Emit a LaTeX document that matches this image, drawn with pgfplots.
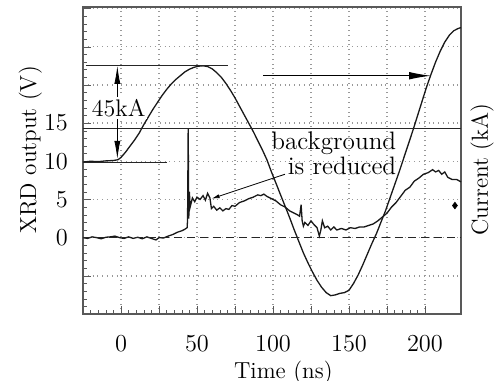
\documentclass[border=0pt]{standalone}
\usepackage{pgfplots}
\pgfplotsset{compat=1.18}
\usetikzlibrary{arrows.meta}
\begin{document}
\begin{tikzpicture}
\begin{axis}[
  name=ax,
  scale only axis, width=189pt, height=153.5pt,
  xmin=-25, xmax=223.7, ymin=-10, ymax=30.2,
  clip=false,
  xtick={-25,0,...,200}, xticklabels={,0,,50,,100,,150,,200},
  ytick={-10,-5,...,30}, yticklabels={,,0,5,10,15,,,},
  minor x tick num=4, minor y tick num=4,
  tick pos=left,
  major tick length=4pt, minor tick length=2pt,
  grid=major, major grid style={dotted, gray!80, line width=0.7pt},
  axis line style={gray!70!black, line width=0.6pt},
  tick style={gray!70!black},
  tick label style={font=\fontsize{12.2}{13}\selectfont},
  label style={font=\fontsize{11.6}{13}\selectfont},
  xticklabel style={yshift=-7pt},
  yticklabel style={xshift=-4pt},
  xlabel={Time (ns)},
  xlabel style={at={(ticklabel cs:0.53)}, yshift=2pt},
]
% current trace
\addplot[black!90, line width=0.65pt] coordinates {
(-25,9.9) (-20,10.0) (-15,9.95) (-10,10.05) (-5,10.1) (-2,10.2) (0,10.5) (3,11.2) (6,12.0) (9,12.8) (12,13.7) (15,14.8) (18,15.8) (21,16.8) (24,17.7) (27,18.6) (30,19.4) (33,20.1) (36,20.7) (39,21.2) (42,21.7) (45,22.05) (48,22.3) (51,22.45) (54,22.5) (57,22.4) (60,22.1) (63,21.6) (66,21.0) (69,20.2) (72,19.3) (75,18.3) (78,17.2) (81,16.1) (84,15.0) (87,13.9) (90,12.7) (93,11.5) (96,10.2) (99,8.6) (102,7.1) (105,5.6) (108,4.1) (111,2.6) (114,1.0) (117,-0.5) (120,-2.0) (123,-3.3) (126,-4.5) (129,-5.6) (132,-6.5) (135,-7.2) (138,-7.6) (141,-7.5) (144,-7.3) (147,-7.2) (150,-6.9) (153,-6.0) (156,-4.9) (159,-3.6) (162,-2.2) (165,-0.8) (168,0.5) (171,2.0) (174,3.5) (177,5.2) (180,6.9) (183,8.6) (186,10.4) (189,12.2) (192,14.0) (195,15.9) (198,17.8) (201,19.7) (204,21.4) (207,23.0) (210,24.4) (213,25.6) (216,26.5) (219,27.1) (222,27.4) (223.7,27.5)
};
% XRD trace
\addplot[black!90, line width=0.65pt] coordinates {
(-25,0) (-22,-0.1) (-19,0.1) (-16,0) (-13,-0.15) (-10,0.05) (-7,0.1) (-4,0.2) (-1,0) (2,-0.1) (5,0.1) (8,-0.1) (11,0.05) (14,-0.15) (17,0.1) (20,-0.1) (23,-0.3) (25,0) (28,-0.05) (31,0.2) (34,0.4) (37,0.7) (40,0.9) (42,1.1) (43.5,1.3) (43.8,2.3) (44.2,14.2) (44.6,2.5) (45.0,6.0) (45.5,4.0) (47,5.2) (48.5,4.7) (50,5.3) (52,5.0) (54,5.5) (55.5,4.9) (57,5.8) (58.5,5.2) (59.5,3.8) (61,4.1) (63,3.6) (65,3.9) (67,3.5) (69,3.8) (71,3.7) (73,4.2) (75,4.1) (78,4.6) (81,4.8) (84,5.1) (87,5.3) (90,5.6) (92,5.5) (94,5.7) (96,5.4) (99,5.1) (102,4.8) (105,4.3) (108,4.0) (111,3.5) (114,3.2) (116,3.0) (117.5,2.8) (118.5,4.3) (119.2,2.2) (120,1.5) (121,2.0) (123,1.6) (125,2.2) (127,1.7) (129,1.3) (130.5,0.2) (131.5,1.0) (132.5,2.2) (134,1.3) (136,1.5) (138,1.0) (140,1.4) (142,1.0) (145,1.2) (148,1.0) (151,1.3) (154,1.2) (157,1.4) (160,1.4) (163,1.6) (166,1.8) (169,2.2) (172,2.7) (175,3.2) (178,4.0) (181,4.6) (184,5.4) (187,6.2) (190,6.6) (193,7.4) (196,7.8) (199,8.3) (202,8.5) (205,8.9) (207,8.6) (209,8.8) (211,8.3) (213,8.6) (215,7.9) (218,7.6) (221,7.6) (223.7,7.3)
};
\addplot[only marks, mark=diamond*, mark size=1.6pt, black] coordinates {(219.7,4.2)};
% annotations
\draw[black!85, line width=0.5pt] (axis cs:-25,14.26) -- (axis cs:223.7,14.26);
\draw[black!85, line width=0.5pt] (axis cs:-23,22.57) -- (axis cs:70.6,22.57);
\draw[black!85, line width=0.5pt] (axis cs:-25,9.78) -- (axis cs:30,9.78);
\draw[black!85, line width=0.5pt, dash pattern=on 4pt off 2.5pt] (axis cs:-25,0) -- (axis cs:223.7,0);
\draw[black, line width=0.4pt, {Latex[length=9pt,width=3pt]}-{Latex[length=9pt,width=3pt]}] (axis cs:-2.4,22.5) -- (axis cs:-2.4,10.3);
\node[fill=white, inner sep=1pt, font=\fontsize{12}{13}\selectfont] at (axis cs:-1.5,17.0) {45kA};
\draw[black, line width=0.55pt, -{Latex[length=11pt,width=3.8pt]}] (axis cs:93.6,21.2) -- (axis cs:204,21.2);
\node[align=right, font=\fontsize{12.6}{11}\selectfont] at (axis cs:140,11.0) {background\\is reduced};
\draw[black, line width=0.4pt, -{Latex[length=4pt,width=2pt]}] (axis cs:107.9,8.3) -- (axis cs:59.6,5.1);
\node[rotate=90, anchor=north, inner sep=0pt, font=\fontsize{11.6}{13}\selectfont] at ([xshift=4.5pt]rel axis cs:1,0.47) {Current (kA)};
\node[rotate=90, anchor=north, inner sep=0pt, font=\fontsize{11.6}{13}\selectfont] at ([xshift=-32.3pt]rel axis cs:0,0.534) {XRD output (V)};
\end{axis}
\pgfresetboundingbox
\path ([xshift=-41.5pt,yshift=-33.5pt]ax.south west) rectangle ([xshift=16.5pt,yshift=3.5pt]ax.north east);
\end{tikzpicture}
\end{document}
